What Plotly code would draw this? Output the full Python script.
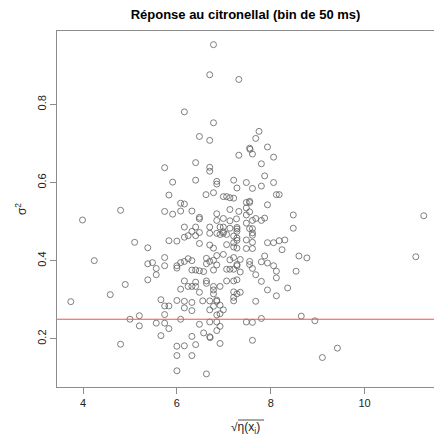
import plotly.graph_objects as go

title_text = "Réponse au citronellal (bin de 50 ms)"
x_ticks = [4, 6, 8, 10]
y_ticks = [0.2, 0.4, 0.6, 0.8]
ref_level = 0.25

x_vals = [
    6.78, 6.70, 7.32, 6.16, 6.78, 6.48, 6.70, 7.32, 5.74, 6.40, 6.70, 6.70, 5.91, 6.40, 6.85, 6.85,
    7.21, 7.28, 5.83, 6.62, 6.78, 6.99, 7.06, 7.13, 7.21, 6.08, 6.16, 4.80, 3.99, 5.74, 5.91, 6.08,
    6.32, 6.48, 6.48, 6.85, 6.85, 6.99, 7.13, 7.13, 7.32, 6.16, 6.40, 6.70, 6.92, 6.99,
    7.75, 7.68, 7.55, 7.56, 7.93, 7.61, 8.06, 7.80, 7.87, 7.48, 7.61, 7.80, 8.06, 8.12, 8.18, 7.48,
    7.55, 7.55, 7.93, 7.48, 7.48, 7.55, 8.48, 11.26, 7.48, 7.61, 7.68, 7.80, 7.87, 7.55, 7.61, 8.48,
    7.28, 7.27,
    6.32, 6.48, 6.85, 6.92, 6.99, 6.99, 7.06, 6.24, 6.16, 6.40, 6.70, 7.28, 7.13, 7.21, 7.28, 5.10,
    5.83, 6.00, 5.38, 6.48, 6.70, 6.78, 7.06, 7.21, 7.28, 4.24, 5.38, 5.48, 5.56, 5.56, 5.74, 5.74,
    6.00, 6.00, 6.08, 6.16, 6.24, 6.32, 6.32, 6.40, 6.48, 6.57, 6.63, 6.70, 6.63, 6.78, 6.85, 6.99,
    6.78, 6.85, 7.06, 7.13, 7.21, 7.13, 7.21, 5.38, 4.90, 4.58, 3.74, 6.16, 6.40, 6.08, 6.24, 6.32,
    6.40, 6.48, 6.63, 6.63, 6.78, 6.78, 6.78, 6.92, 7.06, 7.21, 7.28, 7.21, 7.28, 7.21, 7.21, 5.66,
    6.00, 6.16, 6.32, 6.55, 6.70, 6.85, 6.85, 5.74, 5.83, 6.16, 6.32, 6.70, 6.78, 6.92, 6.99, 6.85,
    6.92, 5.74, 5.20, 5.00, 6.08, 5.56, 5.74, 5.83, 5.20, 5.66, 6.48, 6.57, 6.70, 6.85, 6.92, 6.85,
    6.32, 6.70, 6.71, 6.92, 4.80, 6.00, 6.16, 6.40, 6.00, 6.32, 6.00, 6.63,
    7.28, 7.61, 7.61, 7.48, 7.28, 7.61, 7.93, 8.06, 8.18, 8.30, 8.24, 7.21, 7.48, 7.61, 7.87, 8.60,
    8.77, 11.09, 7.35, 7.28, 7.28, 7.55, 7.55, 7.80, 7.93, 8.06, 7.61, 7.35, 8.12, 8.54, 7.68, 8.12,
    7.80, 7.93, 8.36, 8.12, 7.35, 7.68, 7.80, 8.65, 8.94, 7.48, 7.61, 7.61, 9.42, 9.10,
]
y_vals = [
    0.953, 0.876, 0.864, 0.781, 0.753, 0.718, 0.708, 0.670, 0.638, 0.651, 0.639, 0.629, 0.601, 0.606, 0.603, 0.596,
    0.606, 0.586, 0.568, 0.569, 0.574, 0.564, 0.564, 0.561, 0.560, 0.547, 0.545, 0.529, 0.504, 0.526, 0.519, 0.527,
    0.527, 0.511, 0.507, 0.520, 0.503, 0.508, 0.531, 0.502, 0.526, 0.486, 0.486, 0.486, 0.486, 0.486,
    0.731, 0.713, 0.688, 0.685, 0.691, 0.673, 0.665, 0.648, 0.617, 0.600, 0.585, 0.591, 0.600, 0.569, 0.569, 0.549,
    0.549, 0.552, 0.543, 0.535, 0.517, 0.525, 0.517, 0.515, 0.496, 0.503, 0.508, 0.503, 0.509, 0.482, 0.482, 0.483,
    0.481, 0.507,
    0.475, 0.472, 0.470, 0.467, 0.474, 0.470, 0.467, 0.464, 0.460, 0.464, 0.470, 0.485, 0.483, 0.463, 0.458, 0.447,
    0.451, 0.450, 0.433, 0.444, 0.440, 0.432, 0.441, 0.446, 0.432, 0.400, 0.392, 0.395, 0.380, 0.364, 0.408, 0.387,
    0.387, 0.381, 0.395, 0.398, 0.405, 0.400, 0.376, 0.376, 0.374, 0.372, 0.406, 0.398, 0.392, 0.401, 0.413, 0.416,
    0.376, 0.389, 0.378, 0.378, 0.378, 0.402, 0.408, 0.351, 0.339, 0.313, 0.295, 0.348, 0.345, 0.327, 0.334, 0.334,
    0.334, 0.319, 0.348, 0.342, 0.334, 0.325, 0.315, 0.334, 0.348, 0.348, 0.351, 0.320, 0.315, 0.306, 0.297, 0.300,
    0.298, 0.296, 0.293, 0.297, 0.297, 0.299, 0.296, 0.284, 0.284, 0.279, 0.272, 0.274, 0.283, 0.286, 0.274, 0.261,
    0.264, 0.262, 0.259, 0.250, 0.250, 0.240, 0.240, 0.226, 0.233, 0.208, 0.237, 0.215, 0.243, 0.243, 0.232, 0.221,
    0.206, 0.205, 0.203, 0.188, 0.186, 0.181, 0.182, 0.185, 0.157, 0.157, 0.118, 0.110,
    0.475, 0.471, 0.465, 0.453, 0.452, 0.447, 0.446, 0.446, 0.451, 0.453, 0.428, 0.435, 0.431, 0.431, 0.412, 0.412,
    0.407, 0.410, 0.403, 0.390, 0.387, 0.398, 0.390, 0.397, 0.394, 0.387, 0.380, 0.371, 0.373, 0.373, 0.364, 0.356,
    0.347, 0.325, 0.330, 0.310, 0.319, 0.296, 0.252, 0.258, 0.246, 0.243, 0.242, 0.196, 0.176, 0.152,
]

fig = go.Figure()
fig.add_trace(go.Scatter(
    x=x_vals, y=y_vals, mode="markers",
    marker=dict(symbol="circle-open", size=6, color="#606060", line=dict(width=0.8, color="#606060")),
    hoverinfo="skip", showlegend=False,
))

fig.add_shape(type="line", xref="x domain", yref="y", x0=0, x1=1, y0=ref_level, y1=ref_level,
              line=dict(color="#ff4d4d", width=1))

fig.update_layout(
    width=434, height=439,
    margin=dict(l=57, r=0, t=31, b=52),
    paper_bgcolor="white", plot_bgcolor="white",
    font=dict(family="Liberation Sans, Arial, sans-serif", size=11, color="#222"),
    title=dict(text="<b>" + title_text + "</b>", x=0.5, xanchor="center", xref="paper",
               y=1 - 14 / 439, yanchor="middle", yref="container",
               font=dict(size=13, color="#000")),
    xaxis=dict(range=[3.446, 11.478], tickvals=x_ticks, ticktext=[str(v) for v in x_ticks],
               showgrid=False, zeroline=False, showline=True, mirror=True, linecolor="#8c8c8c", linewidth=1,
               ticks="outside", ticklen=6, tickcolor="#8c8c8c", tickfont=dict(size=11, color="#222")),
    yaxis=dict(range=[0.0765, 0.988], tickvals=y_ticks, ticktext=[str(v) for v in y_ticks],
               showgrid=False, zeroline=False, showline=True, mirror=False, linecolor="#8c8c8c", linewidth=1,
               ticks="outside", ticklen=6, tickcolor="#8c8c8c", tickangle=-90,
               tickfont=dict(size=11, color="#222"),
               title=dict(text="σ<sup>2</sup>", standoff=6, font=dict(size=12, color="#222"))),
)

# x-axis label: square root of eta(x_i), with the radical's bar drawn as a line
fig.add_annotation(
    text="√η(x<sub>i</sub>)",
    xref="paper", yref="paper", x=0.5, y=-41 / 356, xanchor="center", yanchor="middle",
    showarrow=False, font=dict(size=12, color="#222"),
)
fig.add_shape(type="line", xref="paper", yref="paper",
              x0=(238 - 57) / 377, x1=(264 - 57) / 377, y0=-33 / 356, y1=-33 / 356,
              line=dict(color="#222", width=0.8))

fig.write_html("out.html")
